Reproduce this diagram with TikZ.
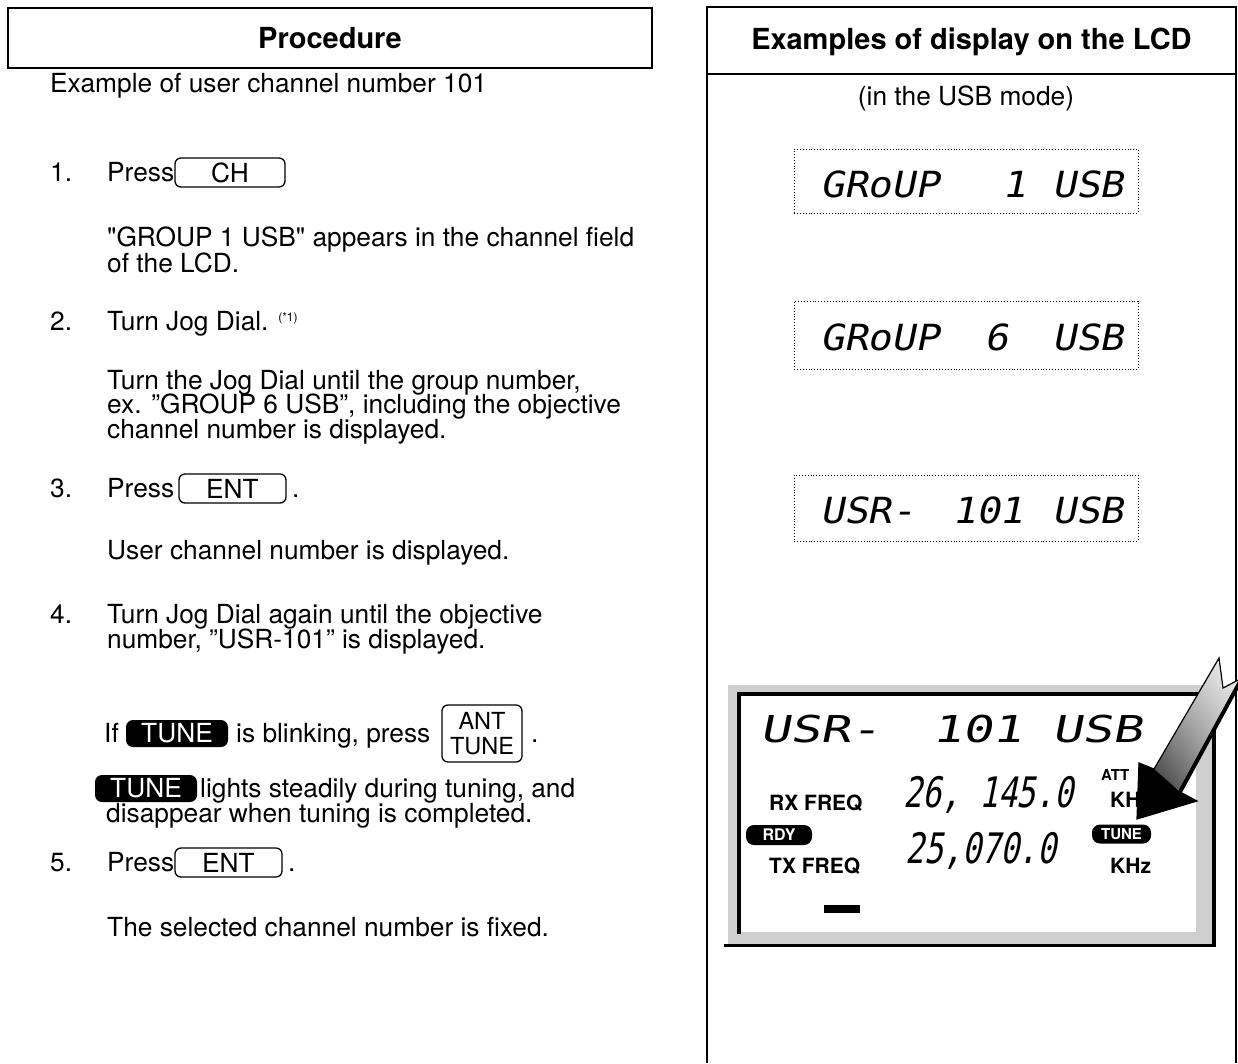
\documentclass[tikz,border=0pt]{standalone}
\usepackage{fontspec}
\usepackage{graphicx}
\usetikzlibrary{shadings}
\setmainfont{TeX Gyre Heros}
\newfontfamily\segfont[FakeSlant=0.2,FakeStretch=1.1]{DejaVu Sans Mono}
\newfontfamily\seglcd[FakeSlant=0.2,FakeStretch=1.35]{DejaVu Sans Mono}
\newfontfamily\segfreq[FakeSlant=0.2,FakeStretch=0.75]{DejaVu Sans Mono}
\newcommand\bodyfnt{\fontsize{26.3}{27}\selectfont}
\newcommand\headfnt{\fontsize{29}{30}\selectfont\bfseries}
\newcommand\qq{\textquotedbl}
\tikzset{
  txt/.style={anchor=base west, inner sep=0pt, font=\bodyfnt},
  keybox/.style={draw, line width=1.3pt, rounded corners=6pt, inner sep=0pt, font=\bodyfnt},
  badge/.style={fill=black, rounded corners=7pt, text=white, inner sep=0pt, font=\bodyfnt},
  seg/.style={anchor=base west, inner sep=0pt, font=\segfont\fontsize{36}{36}\selectfont},
  seglarge/.style={anchor=base west, inner sep=0pt, font=\seglcd\fontsize{37}{37}\selectfont},
  segf/.style={anchor=base west, inner sep=0pt, font=\segfreq\fontsize{42}{42}\selectfont},
  dotbox/.style={draw, dotted, line width=0.9pt, inner sep=0pt},
  lcdlab/.style={anchor=base west, inner sep=0pt, font=\fontsize{21}{22}\selectfont\bfseries},
  frameline/.style={line width=2pt},
}
\begin{document}
\begin{tikzpicture}[x=1pt,y=-1pt]
\useasboundingbox (0,0) rectangle (1238,1063);
\fill[white] (0,0) rectangle (1238,1063);

% ---------------- left panel ----------------
\node[draw, frameline, minimum width=644pt, minimum height=60pt, inner sep=0pt, font=\headfnt] (proc) at (330,38) {Procedure};

\node[txt] (ex) at (50,92) {Example of user channel number 101};

\node[txt] (n1) at (50,181) {1.};
\node[txt] (p1) at (107,181) {Press};
\node[keybox, minimum width=110pt, minimum height=29pt] (ch) at (230,172.5) {CH};
\node[txt] (g1) at (107,246) {\qq GROUP 1 USB\qq{} appears in the channel field};
\node[txt] (g1b) at (107,272) {of the LCD.};

\node[txt] (n2) at (50,330) {2.};
\node[txt] (t2) at (107,330) {Turn Jog Dial. \raisebox{9pt}{\fontsize{12}{12}\selectfont(*1)}};
\node[txt] (t2a) at (107,389) {Turn the Jog Dial until the group number,};
\node[txt] (t2b) at (107,413) {ex. ”GROUP 6 USB”, including the objective};
\node[txt] (t2c) at (107,438) {channel number is displayed.};

\node[txt] (n3) at (50,497) {3.};
\node[txt] (p3) at (107,497) {Press};
\node[keybox, minimum width=107pt, minimum height=29pt] (ent1) at (232.5,488.5) {ENT};
\node[txt] (d3) at (292,497) {.};
\node[txt] (u3) at (107,559) {User channel number is displayed.};

\node[txt] (n4) at (50,623) {4.};
\node[txt] (t4) at (107,623) {Turn Jog Dial again until the objective};
\node[txt] (t4b) at (107,648) {number, ”USR-101” is displayed.};
\node[txt] (if) at (104,742) {If};
\node[badge, minimum width=102pt, minimum height=27pt] (tune1) at (177,733.5) {TUNE};
\node[txt] (blink) at (236,742) {is blinking, press};
\node[keybox, minimum width=80pt, minimum height=57pt, align=center, font=\fontsize{23.5}{25}\selectfont] (ant) at (482,733.5) {ANT\\TUNE};
\node[txt] (d4) at (531,742) {.};
\node[badge, minimum width=102pt, minimum height=27pt] (tune2) at (146,788.5) {TUNE};
\node[txt] (lights) at (200,797) {lights steadily during tuning, and};
\node[txt] (disap) at (106,822) {disappear when tuning is completed.};

\node[txt] (n5) at (50,871) {5.};
\node[txt] (p5) at (107,871) {Press};
\node[keybox, minimum width=107pt, minimum height=29pt] (ent2) at (228.5,862.5) {ENT};
\node[txt] (d5) at (288,871) {.};
\node[txt] (fix) at (107,936) {The selected channel number is fixed.};

% ---------------- right panel ----------------
\draw[frameline] (707,1063) -- (707,7) -- (1236,7) -- (1236,1063);
\draw[frameline] (707,74) -- (1236,74);
\node[font=\headfnt, inner sep=0pt] (exh) at (971.5,42) {Examples of display on the LCD};
\node[font=\bodyfnt, inner sep=0pt] (mode) at (966,98) {(in the USB mode)};

\node[dotbox, minimum width=344pt, minimum height=64pt] (db1) at (966,181) {};
\node[seg] (s1a) at (820,197) {GRoUP};
\node[seg] (s1b) at (1002,197) {1};
\node[seg] (s1c) at (1052,197) {USB};

\node[dotbox, minimum width=344pt, minimum height=68pt] (db2) at (966,335) {};
\node[seg] (s2a) at (820,350) {GRoUP};
\node[seg] (s2b) at (984,350) {6};
\node[seg] (s2c) at (1052,350) {USB};

\node[dotbox, minimum width=344pt, minimum height=66pt] (db3) at (966,508) {};
\node[seg] (s3a) at (820,523) {USR-};
\node[seg] (s3b) at (952,523) {101};
\node[seg] (s3c) at (1052,523) {USB};

% LCD
\fill[gray!38] (728,685) rectangle (1214,944);
\fill[white] (739,694) rectangle (1196,932);
\draw[line width=4pt] (739,934) -- (739,694) -- (1198,694);
\draw[line width=3.5pt] (724,945.5) -- (1214,945.5) -- (1214,700);

\node[seglarge] (l1a) at (760,742) {USR-};
\node[seglarge] (l1b) at (932,742) {101};
\node[seglarge] (l1c) at (1052,742) {USB};

\node[lcdlab] (rx) at (769,810) {RX FREQ};
\node[badge, font=\fontsize{16}{16}\selectfont\bfseries, minimum width=66pt, minimum height=20pt, rounded corners=8pt] (rdy) at (779,835) {RDY};
\node[lcdlab] (tx) at (769,873) {TX FREQ};
\node[fill=black, minimum width=36pt, minimum height=8pt, inner sep=0pt] (bar) at (842,909) {};

\node[segf] (rxf) at (903,807) {26, 145.0};
\node[segf] (txf) at (905,863) {25,070.0};

\node[lcdlab, font=\fontsize{15}{15}\selectfont\bfseries] (att) at (1101,780) {ATT};
\node[lcdlab] (khz1) at (1110,807) {KHz};
\node[badge, font=\fontsize{15}{15}\selectfont\bfseries, minimum width=59pt, minimum height=19pt, rounded corners=8pt] (tunel) at (1121.5,834) {TUNE};
\node[lcdlab] (khz2) at (1110,873) {KHz};

% pointing arrow
\coordinate (A) at (1219,658);
\coordinate (B) at (1223,688);
\coordinate (C) at (1242,678);
\coordinate (D) at (1180,792);
\coordinate (E) at (1197,801);
\coordinate (F) at (1137,819);
\coordinate (G) at (1139,763);
\coordinate (H) at (1154,769);
\shade[upper right=gray!5, upper left=gray!55, lower left=black, lower right=gray!70] (A) -- (B) -- (C) -- (D) -- (E) -- (F) -- (G) -- (H) -- cycle;
\fill[black] (D) -- (E) -- (F) -- (G) -- (H) -- cycle;
\draw[line width=1.2pt, line join=miter] (A) -- (B) -- (C) -- (D) -- (E) -- (F) -- (G) -- (H) -- cycle;
\draw[line width=4pt] (C) -- (D);
\end{tikzpicture}
\end{document}
